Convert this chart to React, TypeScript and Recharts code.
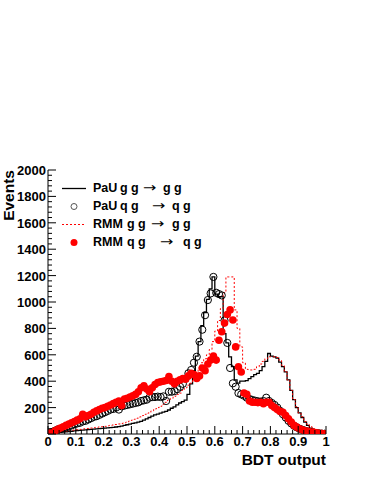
import { ComposedChart, Line, Scatter, XAxis, YAxis, Label } from 'recharts';

// 100 bins of width 0.01 over the BDT output range [0, 1]
const BIN_EDGES = Array.from({ length: 101 }, (_, i) => i / 100);

const PAU_GG = [
  2, 5, 8, 10, 12, 15, 17, 19, 21, 24,
  26, 28, 30, 31, 33, 35, 37, 39, 40, 42,
  44, 46, 48, 50, 53, 56, 60, 65, 70, 75,
  80, 85, 90, 95, 105, 115, 125, 135, 145, 150,
  158, 165, 172, 182, 195, 205, 220, 235, 245, 257,
  300, 380, 480, 590, 700, 820, 920, 1020, 1100, 1190,
  1060, 1040, 1040, 760, 690, 585, 510, 410, 385, 400,
  400, 405, 420, 435, 450, 460, 480, 510, 550, 610,
  590, 585, 575, 545, 510, 470, 410, 330, 260, 200,
  160, 125, 90, 65, 45, 30, 20, 12, 8, 4,
];

const RMM_GG = [
  3, 6, 10, 13, 16, 19, 22, 25, 28, 30,
  33, 35, 38, 40, 42, 45, 48, 50, 53, 55,
  58, 62, 65, 68, 72, 76, 80, 85, 90, 98,
  105, 112, 120, 130, 140, 150, 160, 175, 190, 200,
  210, 225, 240, 257, 270, 285, 300, 310, 330, 350,
  370, 385, 420, 460, 500, 540, 570, 600, 640, 700,
  780, 860, 950, 1070, 1190, 1190, 1190, 940, 800, 660,
  540, 490, 485, 485, 490, 510, 530, 550, 570, 585,
  585, 585, 580, 560, 520, 470, 409, 330, 260, 207,
  160, 131, 95, 75, 55, 40, 25, 15, 8, 4,
];

const PAU_QG = [
  5, 15, 25, 35, 40, 45, 50, 58, 65, 75,
  80, 85, 95, 100, 110, 120, 130, 135, 145, 155,
  165, 175, 185, 190, 200, 185, 210, 215, 220, 225,
  230, 235, 240, 250, 255, 260, 275, 280, 280, 283,
  280, 285, 250, 320, 320, 325, 340, 358, 380, 420,
  460, 485, 540, 585, 700, 790, 900, 1015, 1065, 1190,
  1070, 1060, 1050, 860, 690, 500, 384, 358, 310, 300,
  290, 275, 265, 258, 252, 248, 245, 250, 275, 250,
  235, 220, 200, 175, 150, 125, 100, 80, 62, 50,
  40, 32, 25, 18, 14, 10, 7, 5, 3, 2,
];

const RMM_QG = [
  5, 15, 25, 35, 45, 55, 65, 75, 85, 95,
  105, 115, 150, 130, 140, 150, 165, 175, 185, 195,
  200, 210, 220, 230, 240, 250, 215, 265, 270, 280,
  290, 300, 320, 350, 365, 340, 320, 350, 375, 390,
  395, 400, 405, 435, 400, 380, 400, 410, 420, 415,
  440, 460, 450, 420, 440, 500, 480, 530, 560, 590,
  560, 710, 775, 840, 905, 940, 864, 660, 510, 470,
  310, 300, 250, 240, 240, 238, 240, 230, 240, 240,
  215, 200, 185, 170, 165, 140, 115, 90, 65, 52,
  40, 32, 25, 20, 15, 12, 9, 6, 4, 2,
];

const X_TICK_LABELS = ['0', '0.1', '0.2', '0.3', '0.4', '0.5', '0.6', '0.7', '0.8', '0.9', '1'];
const Y_TICK_LABELS = ['200', '400', '600', '800', '1000', '1200', '1400', '1600', '1800', '2000'];

const X_MINOR_STEP = 0.02;
const Y_MINOR_STEP = 40;

const FONT = '"Liberation Sans", Arial, Helvetica, sans-serif';
const RED = '#ff0000';

const xTicks = Array.from({ length: 51 }, (_, i) => Math.round(i * X_MINOR_STEP * 100) / 100);
const yTicks = Array.from({ length: 51 }, (_, i) => i * Y_MINOR_STEP);

const isMajorX = (v: number) => Math.abs(v * 10 - Math.round(v * 10)) < 1e-6;
const xLabel = (v: number) => X_TICK_LABELS[Math.round(v * 10)];
const yLabel = (v: number) => (v % 200 === 0 && v > 0 ? Y_TICK_LABELS[v / 200 - 1] : null);

// step rows: one per bin edge, last edge repeats the last bin
const rows = BIN_EDGES.map((x, i) => ({
  x,
  pauGG: PAU_GG[Math.min(i, 99)],
  rmmGG: RMM_GG[Math.min(i, 99)],
}));

const pauQgPts = PAU_QG.map((y, i) => ({ x: BIN_EDGES[i] + 0.005, y }));
const rmmQgPts = RMM_QG.map((y, i) => ({ x: BIN_EDGES[i] + 0.005, y }));

function BottomTick({ x, y, payload }: any) {
  const v = payload.value;
  const major = isMajorX(v);
  return (
    <g>
      <line x1={x} x2={x} y1={y} y2={y - (major ? 8 : 4)} stroke="#000" />
      {major && (
        <text x={x} y={y + 12} textAnchor="middle" fontFamily={FONT} fontWeight="bold" fontSize={13} fill="#000">
          {xLabel(v)}
        </text>
      )}
    </g>
  );
}

function TopTick({ x, y, payload }: any) {
  const major = isMajorX(payload.value);
  return <line x1={x} x2={x} y1={y} y2={y + (major ? 8 : 4)} stroke="#000" />;
}

function LeftTick({ x, y, payload }: any) {
  const v = payload.value;
  const lab = yLabel(v);
  const major = v % 200 === 0;
  return (
    <g>
      <line x1={x} x2={x + (major ? 8 : 4)} y1={y} y2={y} stroke="#000" />
      {lab && (
        <text x={x - 2} y={y + 5} textAnchor="end" fontFamily={FONT} fontWeight="bold" fontSize={13} fill="#000">
          {lab}
        </text>
      )}
    </g>
  );
}

function RightTick({ x, y, payload }: any) {
  const major = payload.value % 200 === 0;
  return <line x1={x} x2={x - (major ? 8 : 4)} y1={y} y2={y} stroke="#000" />;
}

const OpenCircle = (p: any) => <circle cx={p.cx} cy={p.cy} r={3.6} fill="none" stroke="#000" strokeWidth={1} />;
const RedDot = (p: any) => <circle cx={p.cx} cy={p.cy} r={3.8} fill={RED} stroke="none" />;

const LEGEND_ROWS = [
  { kind: 'line', parts: [['PaU', 93], ['g g', 120], ['→', 143], ['g g', 163]] },
  { kind: 'circle', parts: [['PaU', 93], ['q g', 120], ['→', 152], ['q g', 172]] },
  { kind: 'dotted', parts: [['RMM', 93], ['g g', 127], ['→', 151], ['g g', 172]] },
  { kind: 'dot', parts: [['RMM', 93], ['q g', 127], ['→', 160], ['q g', 183]] },
];

function LegendBox() {
  return (
    <div style={{ position: 'absolute', left: 0, top: 179, width: 220, fontFamily: FONT, fontSize: 12.5, fontWeight: 'bold' }}>
      {LEGEND_ROWS.map((row, r) => (
        <div key={r} style={{ position: 'relative', height: 18 }}>
          <svg width={30} height={18} style={{ position: 'absolute', left: 59, top: 0 }}>
            {row.kind === 'line' && <line x1={3} x2={27} y1={9.5} y2={9.5} stroke="#000" strokeWidth={1.3} />}
            {row.kind === 'dotted' && <line x1={3} x2={27} y1={9.5} y2={9.5} stroke={RED} strokeWidth={1} strokeDasharray="2 2" />}
            {row.kind === 'circle' && <circle cx={15} cy={9.5} r={3} fill="none" stroke="#555" />}
            {row.kind === 'dot' && <circle cx={15} cy={9.5} r={3.5} fill={RED} />}
          </svg>
          {row.parts.map(([t, left], k) =>
            t === '→' ? (
              <span
                key={k}
                style={{
                  position: 'absolute',
                  left: left as number,
                  top: 1,
                  lineHeight: '16px',
                  fontFamily: '"DejaVu Sans", sans-serif',
                  fontWeight: 'normal',
                  fontSize: 16,
                  transform: 'scaleY(0.8)',
                }}
              >
                {t}
              </span>
            ) : (
              <span key={k} style={{ position: 'absolute', left: left as number, top: 2, lineHeight: '14px' }}>
                {t}
              </span>
            ),
          )}
        </div>
      ))}
    </div>
  );
}

export default function App() {
  return (
    <div style={{ position: 'absolute', left: 0, top: 0, width: 374, height: 484, background: '#fff' }}>
      <ComposedChart width={374} height={484} data={rows} margin={{ top: 170, right: 48, bottom: 20, left: 8 }}>
        <XAxis
          dataKey="x"
          type="number"
          domain={[0, 1]}
          ticks={xTicks}
          interval={0}
          tick={<BottomTick />}
          tickLine={false}
          tickSize={0}
          tickMargin={0}
          height={30}
          axisLine={{ stroke: '#000' }}
          allowDataOverflow
        >
          <Label
            content={({ viewBox }: any) => (
              <text x={viewBox.x + viewBox.width} y={viewBox.y + 31} textAnchor="end" fontFamily={FONT} fontWeight="bold" fontSize={15.5} fill="#000">
                BDT output
              </text>
            )}
          />
        </XAxis>
        <XAxis
          xAxisId="top"
          orientation="top"
          dataKey="x"
          type="number"
          domain={[0, 1]}
          ticks={xTicks}
          interval={0}
          tick={<TopTick />}
          tickLine={false}
          tickSize={0}
          tickMargin={0}
          height={0}
          axisLine={{ stroke: '#000' }}
          allowDataOverflow
        />
        <YAxis
          type="number"
          domain={[0, 2000]}
          ticks={yTicks}
          interval={0}
          tick={<LeftTick />}
          tickLine={false}
          tickSize={0}
          tickMargin={0}
          width={40}
          axisLine={{ stroke: '#000' }}
          allowDataOverflow
        >
          <Label
            content={({ viewBox }: any) => (
              <text
                x={14}
                y={viewBox.y}
                transform={`rotate(-90 14 ${viewBox.y})`}
                textAnchor="end"
                fontFamily={FONT}
                fontWeight="bold"
                fontSize={15.5}
                fill="#000"
              >
                Events
              </text>
            )}
          />
        </YAxis>
        <YAxis
          yAxisId="right"
          orientation="right"
          type="number"
          domain={[0, 2000]}
          ticks={yTicks}
          interval={0}
          tick={<RightTick />}
          tickLine={false}
          tickSize={0}
          tickMargin={0}
          width={0}
          axisLine={{ stroke: '#000' }}
          allowDataOverflow
        />

        <Line dataKey="pauGG" type="stepAfter" stroke="#000" strokeWidth={1.3} dot={false} isAnimationActive={false} />
        <Line dataKey="rmmGG" type="stepAfter" stroke={RED} strokeWidth={1} strokeDasharray="2 2" dot={false} isAnimationActive={false} />
        <Scatter data={pauQgPts} dataKey="y" shape={OpenCircle} isAnimationActive={false} />
        <Scatter data={rmmQgPts} dataKey="y" shape={RedDot} isAnimationActive={false} />
      </ComposedChart>
      <LegendBox />
    </div>
  );
}
